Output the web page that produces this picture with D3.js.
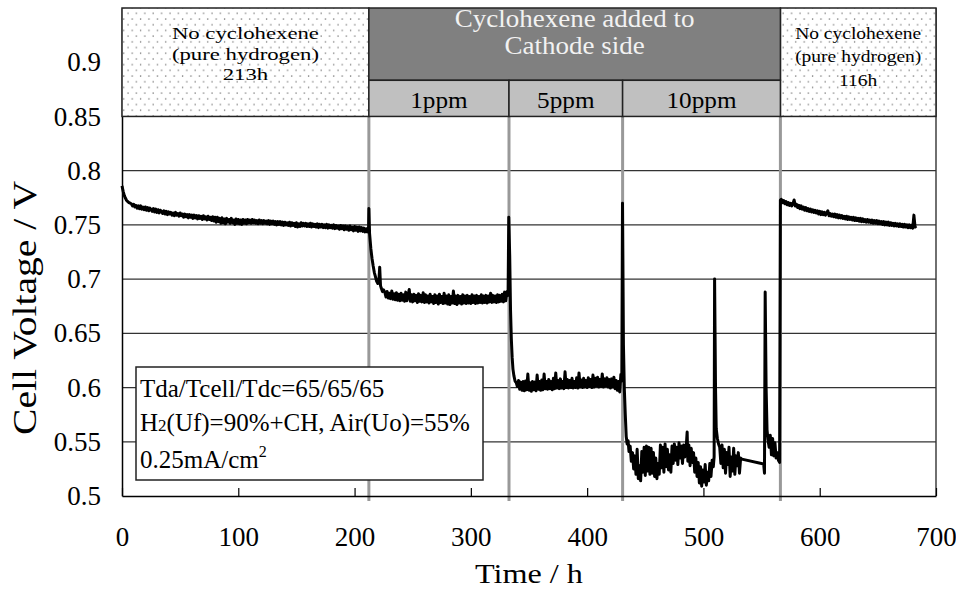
<!DOCTYPE html>
<html>
<head>
<meta charset="utf-8">
<script src="https://cdn.jsdelivr.net/npm/d3@7"></script>
<style>
  body { margin: 0; background: #fff; }
  svg { display: block; font-family: "Liberation Serif", "Times New Roman", serif; }
</style>
</head>
<body>
<svg id="chart" width="956" height="590"></svg>
<script>
// [hour, cell voltage], one array per test phase
const pureH2Before = [
  [0,0.786],[1,0.781],[2,0.777],[3,0.7745],[4,0.7725],[5,0.7715],[6,0.7705],[7,0.770],[8,0.7695],[9,0.7675],
  [10,0.769],[11,0.7665],[12,0.768],[13,0.7655],[14,0.7675],[15,0.765],[16,0.7675],[17,0.7645],[18,0.7665],[19,0.764],
  [20,0.7665],[21,0.7635],[22,0.766],[23,0.763],[24,0.7655],[25,0.764],[26,0.7625],[27,0.765],[28,0.762],[29,0.7645],
  [30,0.7615],[31,0.764],[32,0.761],[33,0.7635],[34,0.7625],[35,0.7605],[36,0.763],[37,0.760],[38,0.7625],[39,0.7595],
  [40,0.762],[41,0.760],[42,0.7615],[43,0.759],[44,0.761],[45,0.7585],[46,0.7615],[47,0.759],[48,0.7605],[49,0.758],
  [50,0.761],[51,0.7585],[52,0.760],[53,0.757],[54,0.760],[55,0.7575],[56,0.7595],[57,0.7565],[58,0.7595],[59,0.757],
  [60,0.759],[61,0.756],[62,0.759],[63,0.7565],[64,0.7585],[65,0.7555],[66,0.7585],[67,0.756],[68,0.758],[69,0.755],
  [70,0.7585],[71,0.7555],[72,0.7575],[73,0.7545],[74,0.758],[75,0.755],[76,0.757],[77,0.754],[78,0.7575],[79,0.7535],
  [80,0.757],[81,0.7525],[82,0.757],[83,0.753],[84,0.756],[85,0.7515],[86,0.7565],[87,0.752],[88,0.7555],[89,0.751],
  [90,0.756],[91,0.7525],[92,0.755],[93,0.7515],[94,0.756],[95,0.752],[96,0.7545],[97,0.7505],[98,0.7555],[99,0.7515],
  [100,0.755],[101,0.751],[102,0.7545],[103,0.7505],[104,0.755],[105,0.7515],[106,0.7545],[107,0.751],[108,0.755],[109,0.752],
  [110,0.7545],[111,0.7515],[112,0.755],[113,0.752],[114,0.7545],[115,0.7515],[116,0.754],[117,0.751],[118,0.7545],[119,0.7515],
  [120,0.754],[121,0.751],[122,0.754],[123,0.7515],[124,0.7535],[125,0.751],[126,0.754],[127,0.7505],[128,0.7535],[129,0.751],
  [130,0.7535],[131,0.7505],[132,0.753],[133,0.750],[134,0.753],[135,0.7505],[136,0.753],[137,0.750],[138,0.7525],[139,0.7495],
  [140,0.7525],[141,0.750],[142,0.752],[143,0.7495],[144,0.7525],[145,0.749],[146,0.752],[147,0.7495],[148,0.7515],[149,0.7485],
  [150,0.752],[151,0.748],[152,0.751],[153,0.7485],[154,0.752],[155,0.749],[156,0.7515],[157,0.749],[158,0.7515],[159,0.7485],
  [160,0.751],[161,0.7485],[162,0.7515],[163,0.748],[164,0.751],[165,0.7485],[166,0.7505],[167,0.748],[168,0.751],[169,0.7475],
  [170,0.7505],[171,0.748],[172,0.7505],[173,0.7475],[174,0.750],[175,0.7475],[176,0.7505],[177,0.747],[178,0.750],[179,0.7475],
  [180,0.7495],[181,0.747],[182,0.750],[183,0.7465],[184,0.7495],[185,0.747],[186,0.749],[187,0.746],[188,0.7495],[189,0.7465],
  [190,0.749],[191,0.7455],[192,0.749],[193,0.746],[194,0.7485],[195,0.745],[196,0.749],[197,0.7455],[198,0.748],[199,0.7445],
  [200,0.7485],[201,0.745],[202,0.748],[203,0.744],[204,0.748],[205,0.7445],[206,0.7475],[207,0.744],[208,0.747],[209,0.7435],
  [210,0.7465],[211,0.7435],[212,0.745]
];
const ppm1 = [
  [212.3,0.765],[212.9,0.742],[214,0.728],[215,0.719],[216,0.712],[217,0.706],[218,0.702],[219,0.698],[220,0.696],[221,0.700],
  [221.6,0.711],[222.3,0.694],[223,0.6915],[224,0.6885],[225,0.690],[226,0.688],[227,0.6835],[228,0.6885],[229,0.6825],[230,0.687],
  [231,0.682],[232,0.689],[233,0.6815],[234,0.6865],[235,0.681],[236,0.6875],[237,0.6805],[238,0.686],[239,0.680],[240,0.687],
  [241,0.6805],[242,0.6855],[243,0.6795],[244,0.688],[245,0.680],[246,0.685],[247,0.6905],[248,0.6795],[249,0.6855],[250,0.679],
  [251,0.686],[252,0.680],[253,0.685],[254,0.6785],[255,0.6865],[256,0.6795],[257,0.685],[258,0.679],[259,0.6875],[260,0.6785],
  [261,0.6855],[262,0.679],[263,0.6845],[264,0.678],[265,0.686],[266,0.679],[267,0.684],[268,0.6775],[269,0.6855],[270,0.6785],
  [271,0.6845],[272,0.677],[273,0.686],[274,0.6785],[275,0.684],[276,0.6775],[277,0.687],[278,0.678],[279,0.6845],[280,0.677],
  [281,0.6855],[282,0.6765],[283,0.684],[284,0.678],[285,0.689],[286,0.6775],[287,0.6845],[288,0.6765],[289,0.685],[290,0.678],
  [291,0.684],[292,0.677],[293,0.6855],[294,0.678],[295,0.6845],[296,0.6775],[297,0.685],[298,0.678],[299,0.684],[300,0.6775],
  [301,0.6855],[302,0.6785],[303,0.6845],[304,0.6775],[305,0.685],[306,0.678],[307,0.684],[308,0.6785],[309,0.6855],[310,0.678],
  [311,0.6845],[312,0.6785],[313,0.685],[314,0.678],[315,0.6845],[316,0.679],[317,0.687],[318,0.6785],[319,0.685],[320,0.679],
  [321,0.6845],[322,0.6785],[323,0.6855],[324,0.679],[325,0.685],[326,0.6795],[327,0.686],[328,0.679],[329,0.688],[330,0.680],
  [331,0.6885],[332,0.685]
];
const ppm5 = [
  [332.6,0.757],[333.4,0.722],[334.1,0.672],[334.8,0.645],[335.5,0.628],[336.2,0.617],[337,0.611],[338,0.606],[339,0.6045],[340,0.601],
  [341,0.6065],[342,0.5985],[343,0.605],[344,0.5975],[345,0.6055],[346,0.597],[347,0.606],[348,0.598],[349,0.6125],[350,0.5975],
  [351,0.6045],[352,0.5965],[353,0.6055],[354,0.598],[355,0.605],[356,0.597],[357,0.6115],[358,0.5985],[359,0.6055],[360,0.5975],
  [361,0.607],[362,0.598],[363,0.6125],[364,0.599],[365,0.6055],[366,0.5985],[367,0.6075],[368,0.599],[369,0.6055],[370,0.598],
  [371,0.6085],[372,0.599],[373,0.6135],[374,0.5995],[375,0.6065],[376,0.599],[377,0.608],[378,0.5995],[379,0.6055],[380,0.599],
  [381,0.6145],[382,0.600],[383,0.6075],[384,0.5995],[385,0.6065],[386,0.600],[387,0.6085],[388,0.5995],[389,0.6055],[390,0.600],
  [391,0.609],[392,0.5995],[393,0.6135],[394,0.6005],[395,0.607],[396,0.600],[397,0.6085],[398,0.6005],[399,0.6065],[400,0.600],
  [401,0.609],[402,0.601],[403,0.6075],[404,0.600],[405,0.6115],[406,0.6005],[407,0.6085],[408,0.6015],[409,0.6095],[410,0.6005],
  [411,0.6075],[412,0.601],[413,0.6125],[414,0.6005],[415,0.608],[416,0.6015],[417,0.609],[418,0.6005],[419,0.6075],[420,0.5995],
  [421,0.608],[422,0.6005],[423,0.6095],[424,0.599],[425,0.6065],[426,0.5975],[427,0.6055],[428,0.596],[429,0.612],[429.8,0.606]
];
const ppm10 = [
  [430.4,0.770],[431.2,0.640],[432,0.598],[432.8,0.575],[433.6,0.555],[434.4,0.548],[435.2,0.551],[436,0.541],[437,0.546],[438,0.532],
  [439,0.540],[440,0.525],[441,0.537],[442,0.520],[443,0.543],[444,0.516],[445,0.528],[446,0.514],[447,0.541],[448,0.522],
  [449,0.545],[450,0.519],[451,0.546],[452,0.523],[453,0.545],[454,0.520],[455,0.544],[456,0.521],[457,0.540],[458,0.518],
  [459,0.535],[460,0.516],[461,0.530],[462,0.520],[463,0.547],[464,0.526],[465,0.545],[466,0.522],[467,0.548],[468,0.527],
  [469,0.543],[470,0.524],[471,0.538],[472,0.522],[473,0.546],[474,0.530],[475,0.548],[476,0.533],[477,0.545],[478,0.529],
  [479,0.549],[480,0.535],[481,0.546],[482,0.530],[483,0.547],[484,0.536],[485,0.542],[486,0.559],[486.6,0.532],[487.5,0.547],
  [488.5,0.528],[489.5,0.544],[490.5,0.531],[491.5,0.540],[492.5,0.522],[493.5,0.535],[494.5,0.518],[495.5,0.531],[496.5,0.512],[497.5,0.527],
  [498.5,0.509],[499.5,0.524],[500.5,0.513],[501.5,0.529],[502.5,0.510],[503.5,0.522],[504.5,0.514],[505.5,0.530],[506.5,0.518],[507.5,0.533],
  [508.5,0.527],[509.2,0.536],[509.6,0.700],[510.4,0.600],[511,0.562],[512,0.553],[513,0.548],[514,0.545],[515,0.530],[516,0.547],
  [517,0.526],[518,0.543],[519,0.521],[520,0.540],[521,0.529],[522,0.545],[523,0.518],[524,0.536],[525,0.523],[526,0.544],
  [527,0.520],[528,0.537],[529,0.528],[530,0.540],[531,0.521],[532,0.535],[533,0.534],[551.8,0.5295],[552.5,0.521],[553.1,0.688],
  [553.9,0.600],[554.7,0.561],[555.5,0.552],[556.5,0.545],[557.5,0.556],[558.5,0.538],[559.5,0.553],[560.5,0.537],[561.5,0.549],[562.5,0.535],
  [563.5,0.540],[564.5,0.533],[565.5,0.531]
];
const pureH2After = [
  [566.2,0.773],[567,0.7735],[568,0.7705],[569,0.7725],[570,0.7695],[571,0.7715],[572,0.7685],[573,0.7705],[574,0.768],[575,0.770],
  [576,0.7675],[577,0.7695],[578,0.773],[579,0.7675],[580,0.769],[581,0.766],[582,0.768],[583,0.765],[584,0.7675],[585,0.7645],
  [586,0.7665],[587,0.7635],[588,0.766],[589,0.763],[590,0.765],[591,0.7625],[592,0.7645],[593,0.762],[594,0.764],[595,0.7615],
  [596,0.7635],[597,0.761],[598,0.763],[599,0.760],[600,0.7625],[601,0.7595],[602,0.762],[603,0.7595],[604,0.7615],[605,0.759],
  [606,0.761],[607,0.763],[608,0.7585],[609,0.7605],[610,0.758],[611,0.760],[612,0.7575],[613,0.760],[614,0.757],[615,0.7595],
  [616,0.7565],[617,0.759],[618,0.7565],[619,0.7585],[620,0.756],[621,0.758],[622,0.7555],[623,0.758],[624,0.755],[625,0.7575],
  [626,0.755],[627,0.757],[628,0.7545],[629,0.757],[630,0.754],[631,0.7565],[632,0.754],[633,0.756],[634,0.7535],[635,0.756],
  [636,0.753],[637,0.7555],[638,0.753],[639,0.755],[640,0.7525],[641,0.755],[642,0.7525],[643,0.7545],[644,0.752],[645,0.7545],
  [646,0.7515],[647,0.754],[648,0.7515],[649,0.754],[650,0.751],[651,0.7535],[652,0.751],[653,0.753],[654,0.7505],[655,0.753],
  [656,0.750],[657,0.7525],[658,0.750],[659,0.7525],[660,0.7495],[661,0.752],[662,0.7495],[663,0.7515],[664,0.749],[665,0.7515],
  [666,0.749],[667,0.751],[668,0.7485],[669,0.751],[670,0.7485],[671,0.7505],[672,0.748],[673,0.7505],[674,0.748],[675,0.750],
  [676,0.7475],[677,0.750],[678,0.7475],[679,0.7495],[680,0.747],[681,0.759],[682,0.748],[683,0.749]
];

// phase boundaries (h) and header texts
const phaseBounds = [0, 212.3, 332.8, 430.5, 566.2, 700];
const startLabel = ["No cyclohexene", "(pure hydrogen)", "213h"];
const endLabel = ["No cyclohexene", "(pure hydrogen)", "116h"];
const addedLabel = ["Cyclohexene added to", "Cathode side"];
const ppmLabels = ["1ppm", "5ppm", "10ppm"];

const xTicks = [0, 100, 200, 300, 400, 500, 600, 700];
const yTicks = [0.5, 0.55, 0.6, 0.65, 0.7, 0.75, 0.8, 0.85, 0.9];

const width = 956, height = 590;
const margin = { top: 8, right: 20, bottom: 94, left: 122 };
const serif = '"Liberation Serif", "Times New Roman", serif';

const svg = d3.select("#chart");
const x = d3.scaleLinear().domain([0, 700]).range([margin.left, width - margin.right]);
const y = d3.scaleLinear().domain([0.5, 0.95]).range([height - margin.bottom, margin.top]);

// dotted fill for the "no cyclohexene" boxes
const pat = svg.append("defs").append("pattern")
  .attr("id", "dots").attr("patternUnits", "userSpaceOnUse")
  .attr("width", 8.4).attr("height", 11.4);
pat.append("rect").attr("width", 8.4).attr("height", 11.4).attr("fill", "#fff");
pat.append("circle").attr("cx", 2).attr("cy", 2).attr("r", 0.75).attr("fill", "#777");
pat.append("circle").attr("cx", 6.2).attr("cy", 7.7).attr("r", 0.75).attr("fill", "#777");

// horizontal grid
svg.append("g")
  .selectAll("line")
  .data(yTicks.filter((d) => d > 0.5 && d < 0.85))
  .join("line")
  .attr("x1", x(0)).attr("x2", x(700))
  .attr("y1", (d) => y(d)).attr("y2", (d) => y(d))
  .attr("stroke", "#333").attr("stroke-width", 1.2);

// right frame
svg.append("line")
  .attr("x1", x(700)).attr("x2", x(700)).attr("y1", y(0.95)).attr("y2", y(0.5))
  .attr("stroke", "#333").attr("stroke-width", 1.4);

// grey phase separators
svg.append("g")
  .selectAll("line")
  .data(phaseBounds.slice(1, -1))
  .join("line")
  .attr("x1", (d) => x(d)).attr("x2", (d) => x(d))
  .attr("y1", y(0.85)).attr("y2", y(0.5) + 5)
  .attr("stroke", "#999").attr("stroke-width", 3);

// voltage trace
const allPoints = [].concat(pureH2Before, ppm1, ppm5, ppm10, pureH2After);
const line = d3.line().x((d) => x(d[0])).y((d) => y(d[1]));
svg.append("path")
  .datum(allPoints)
  .attr("d", line)
  .attr("fill", "none")
  .attr("stroke", "#000")
  .attr("stroke-width", 3)
  .attr("stroke-linejoin", "round");

// axes
const xAxis = d3.axisBottom(x).tickValues(xTicks).tickSizeInner(-8).tickSizeOuter(0).tickPadding(31);
svg.append("g")
  .attr("transform", `translate(0,${y(0.5)})`)
  .call(xAxis)
  .attr("font-family", serif).attr("font-size", 27)
  .call((g) => g.select(".domain").attr("stroke", "#000").attr("stroke-width", 1.5))
  .call((g) => g.selectAll(".tick line").attr("stroke", "#000").attr("stroke-width", 1.2))
  .call((g) => g.selectAll("text").attr("fill", "#000"));

const yAxis = d3.axisLeft(y).tickValues(yTicks).tickSize(0).tickPadding(21).tickFormat(d3.format(".2~f"));
svg.append("g")
  .attr("transform", `translate(${x(0)},0)`)
  .call(yAxis)
  .attr("font-family", serif).attr("font-size", 27)
  .call((g) => g.select(".domain").attr("stroke", "#000").attr("stroke-width", 1.5))
  .call((g) => g.selectAll("text").attr("fill", "#000"));

// header band
const bandTop = y(0.95), bandBottom = y(0.85), bandMid = y(0.85 + 0.1 / 3);
const band = svg.append("g");

function stretched(g, cx, base, str, size, sx, fill) {
  return g.append("text")
    .attr("transform", `translate(${cx},${base}) scale(${sx},1)`)
    .attr("text-anchor", "middle")
    .attr("font-size", size)
    .attr("fill", fill || "#000")
    .text(str);
}

band.append("rect")
  .attr("x", x(phaseBounds[0])).attr("y", bandTop)
  .attr("width", x(phaseBounds[1]) - x(phaseBounds[0])).attr("height", bandBottom - bandTop)
  .attr("fill", "url(#dots)").attr("stroke", "#222").attr("stroke-width", 1.5);
band.append("rect")
  .attr("x", x(phaseBounds[4])).attr("y", bandTop)
  .attr("width", x(phaseBounds[5]) - x(phaseBounds[4])).attr("height", bandBottom - bandTop)
  .attr("fill", "url(#dots)").attr("stroke", "#222").attr("stroke-width", 1.5);
band.append("rect")
  .attr("x", x(phaseBounds[1])).attr("y", bandTop)
  .attr("width", x(phaseBounds[4]) - x(phaseBounds[1])).attr("height", bandMid - bandTop)
  .attr("fill", "#808080").attr("stroke", "#222").attr("stroke-width", 1.5);
band.selectAll(".ppm")
  .data(ppmLabels)
  .join("rect")
  .attr("class", "ppm")
  .attr("x", (d, i) => x(phaseBounds[i + 1])).attr("y", bandMid)
  .attr("width", (d, i) => x(phaseBounds[i + 2]) - x(phaseBounds[i + 1]))
  .attr("height", bandBottom - bandMid)
  .attr("fill", "#c0c0c0").attr("stroke", "#222").attr("stroke-width", 1.5);

const leftCx = (x(phaseBounds[0]) + x(phaseBounds[1])) / 2;
[39, 60, 80].forEach((b, i) => stretched(band, leftCx, b, startLabel[i], 17.5, 1.3));
const rightCx = (x(phaseBounds[4]) + x(phaseBounds[5])) / 2;
[39, 62, 86].forEach((b, i) => stretched(band, rightCx, b, endLabel[i], 16, 1.22));
const addCx = (x(phaseBounds[1]) + x(phaseBounds[4])) / 2;
[27, 54].forEach((b, i) => stretched(band, addCx, b, addedLabel[i], 25, 1.08, "#f2f2f2"));
ppmLabels.forEach((t, i) =>
  stretched(band, (x(phaseBounds[i + 1]) + x(phaseBounds[i + 2])) / 2, 108, t, 24, 1.05));

// condition box
const legend = svg.append("g");
legend.append("rect")
  .attr("x", 136).attr("y", 367).attr("width", 347).attr("height", 113)
  .attr("fill", "#fff").attr("stroke", "#222").attr("stroke-width", 1.5);
legend.append("text").attr("x", 140).attr("y", 397).attr("font-size", 25).text("Tda/Tcell/Tdc=65/65/65");
const l2 = legend.append("text").attr("x", 140).attr("y", 431).attr("font-size", 25);
l2.append("tspan").text("H");
l2.append("tspan").attr("font-size", 17).text("2");
l2.append("tspan").text("(Uf)=90%+CH, Air(Uo)=55%");
const l3 = legend.append("text").attr("x", 140).attr("y", 468).attr("font-size", 25);
l3.append("tspan").text("0.25mA/cm");
l3.append("tspan").attr("font-size", 16).attr("dy", -11).text("2");

// axis titles
svg.append("text")
  .attr("transform", `translate(${(x(0) + x(700)) / 2},583) scale(1.15,1)`)
  .attr("text-anchor", "middle").attr("font-size", 28)
  .text("Time / h");
svg.append("text")
  .attr("transform", `translate(36,308) rotate(-90) scale(1.2,1)`)
  .attr("text-anchor", "middle").attr("font-size", 33)
  .text("Cell Voltage / V");
</script>
</body>
</html>
